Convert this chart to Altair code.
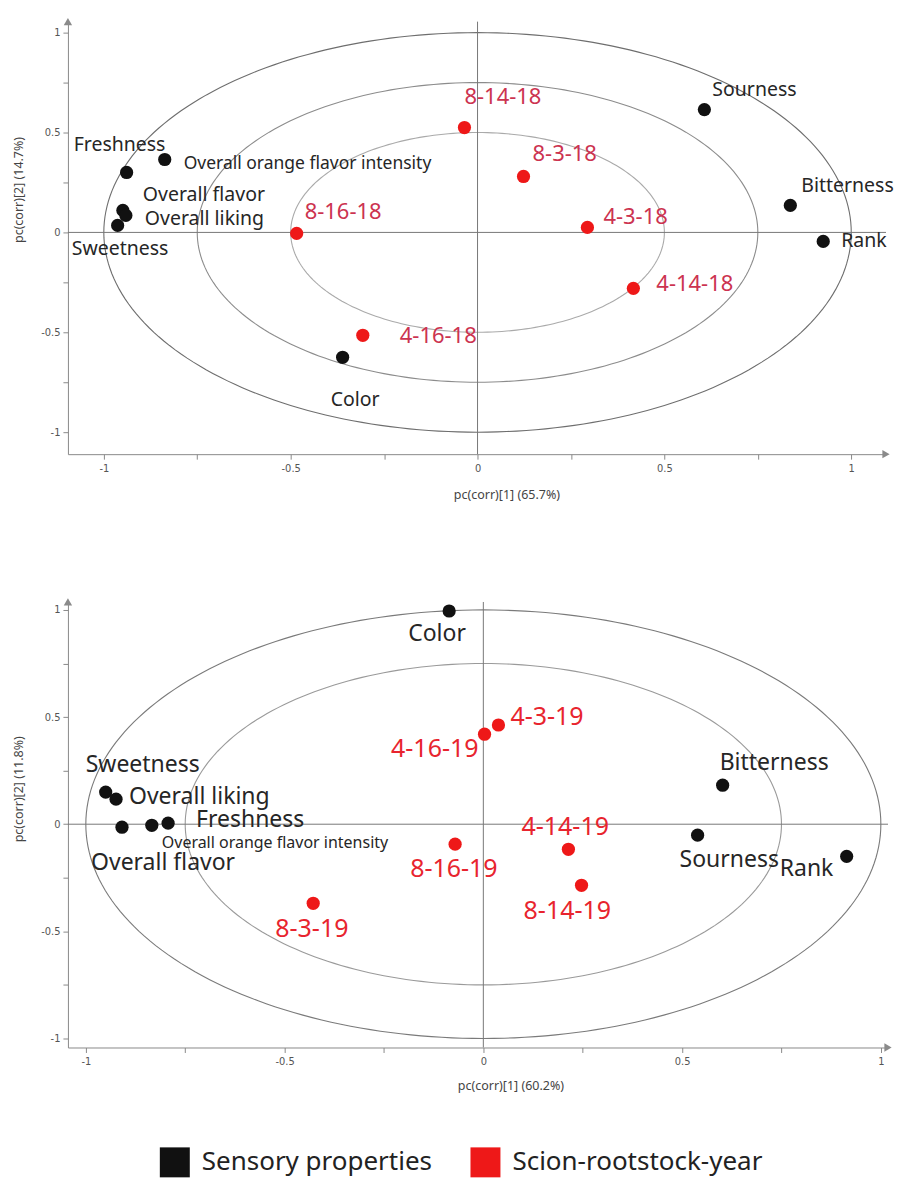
import altair as alt
import numpy as np
import pandas as pd

# ---------------- data: panel 1 (2018) ----------------
sens_names_18 = ["Sourness", "Bitterness", "Rank", "Freshness",
                 "Overall orange flavor intensity", "Overall flavor",
                 "Overall liking", "Sweetness", "Color"]
sens_pc1_18 = [0.607, 0.837, 0.925, -0.939, -0.837, -0.949, -0.941, -0.963, -0.361]
sens_pc2_18 = [0.615, 0.135, -0.045, 0.300, 0.365, 0.110, 0.085, 0.035, -0.625]

samp_names_18 = ["8-14-18", "8-3-18", "4-3-18", "4-14-18", "8-16-18", "4-16-18"]
samp_pc1_18 = [-0.035, 0.123, 0.294, 0.417, -0.484, -0.307]
samp_pc2_18 = [0.525, 0.280, 0.025, -0.280, -0.005, -0.515]

# ---------------- data: panel 2 (2019) ----------------
sens_names_19 = ["Color", "Bitterness", "Sourness", "Rank", "Sweetness",
                 "Overall liking", "Overall flavor",
                 "Overall orange flavor intensity", "Freshness"]
sens_pc1_19 = [-0.086, 0.602, 0.539, 0.914, -0.950, -0.924, -0.909, -0.834, -0.793]
sens_pc2_19 = [0.995, 0.182, -0.051, -0.150, 0.150, 0.117, -0.014, -0.005, 0.005]

samp_names_19 = ["4-3-19", "4-16-19", "4-14-19", "8-14-19", "8-16-19", "8-3-19"]
samp_pc1_19 = [0.038, 0.003, 0.214, 0.247, -0.071, -0.428]
samp_pc2_19 = [0.463, 0.420, -0.117, -0.285, -0.093, -0.369]

groups = ["Sensory properties", "Scion-rootstock-year"]
tick_values = [-1, -0.75, -0.5, -0.25, 0, 0.25, 0.5, 0.75, 1]

# ---------------- label placement (pixel offsets, alignment) ----------------
offsets_18 = {
    "Sourness": (8, -20, "left"), "Bitterness": (11, -19, "left"), "Rank": (18, 0, "left"),
    "Freshness": (-53, -28, "left"), "Overall orange flavor intensity": (19, 5, "left"),
    "Overall flavor": (20, -15, "left"), "Overall liking": (19, 4, "left"),
    "Sweetness": (-46, 24, "left"), "Color": (-12, 43, "left"),
    "8-14-18": (0, -31, "left"), "8-3-18": (9, -22, "left"), "4-3-18": (16, -10, "left"),
    "4-14-18": (23, -4, "left"), "8-16-18": (8, -21, "left"), "4-16-18": (37, 1, "left"),
}
offsets_19 = {
    "Color": (-41, 23, "left"), "Bitterness": (-3, -22, "left"), "Sourness": (-18, 25, "left"),
    "Rank": (-67, 13, "left"), "Sweetness": (-20, -27, "left"), "Overall liking": (13, -2, "left"),
    "Overall flavor": (-31, 36, "left"), "Overall orange flavor intensity": (10, 18, "left"),
    "Freshness": (28, -3, "left"),
    "4-3-19": (12, -8, "left"), "4-16-19": (-6, 15, "right"), "4-14-19": (-47, -22, "left"),
    "8-14-19": (-58, 26, "left"), "8-16-19": (-45, 25, "left"), "8-3-19": (-38, 26, "left"),
}

FONT = "Noto Sans"
TICK_FONT = "Liberation Sans Narrow, DejaVu Sans Condensed, Liberation Sans, sans-serif"


def build_frame(sn, sx, sy, pn, px, py):
    rows = []
    for n, x, y in zip(sn, sx, sy):
        rows.append(dict(name=n, pc1=x, pc2=y, group=groups[0]))
    for n, x, y in zip(pn, px, py):
        rows.append(dict(name=n, pc1=x, pc2=y, group=groups[1]))
    return pd.DataFrame(rows)


def panel(df, offsets, sens_fs, samp_fs, small_fs, xdom, ydom, width, height, radii,
          ring_colors, xtitle, ytitle, xt_pos, yt_pos, red_text, legend):
    xs = alt.Scale(domain=xdom, nice=False, zero=False)
    ys = alt.Scale(domain=ydom, nice=False, zero=False)
    label_expr = "abs(datum.value*2 - round(datum.value*2)) < 1e-6 ? '' + datum.value : ''"
    common = dict(values=tick_values, labelExpr=label_expr, tickSize=5,
                  domainColor="#8a8a8a", tickColor="#8a8a8a", labelColor="#555",
                  labelFont=TICK_FONT, labelFontSize=11, grid=False,
                  titleFont=FONT, titleFontSize=12.5, titleColor="#444",
                  titleFontWeight="normal", titleAlign="center",
                  titleBaseline="middle", labelPadding=3)
    xaxis = alt.Axis(title=xtitle, titleX=xt_pos[0], titleY=xt_pos[1], **common)
    yaxis = alt.Axis(title=ytitle, titleX=yt_pos[0], titleY=yt_pos[1],
                     titleAngle=270, **common)

    # reference correlation circles
    theta = np.linspace(0, 2 * np.pi, 241)
    layers = []
    for r, c in zip(radii, ring_colors):
        ring = pd.DataFrame({"pc1": r * np.cos(theta), "pc2": r * np.sin(theta),
                             "k": np.arange(len(theta))})
        layers.append(alt.Chart(ring).mark_line(color=c, strokeWidth=1.1).encode(
            x=alt.X("pc1:Q", scale=xs, axis=xaxis),
            y=alt.Y("pc2:Q", scale=ys, axis=yaxis),
            order="k:Q"))

    zero = pd.DataFrame({"v": [0]})
    layers.append(alt.Chart(zero).mark_rule(color="#777", strokeWidth=1).encode(
        x=alt.X("v:Q", scale=xs)))
    layers.append(alt.Chart(zero).mark_rule(color="#777", strokeWidth=1).encode(
        y=alt.Y("v:Q", scale=ys)))

    # axis arrow heads
    ax_end = pd.DataFrame({"x": [xdom[1]], "y": [ydom[0]]})
    layers.append(alt.Chart(ax_end).mark_point(shape="triangle-right", filled=True,
                                               size=70, color="#8a8a8a", opacity=1).encode(
        x=alt.X("x:Q", scale=xs), y=alt.Y("y:Q", scale=ys)))
    ay_end = pd.DataFrame({"x": [xdom[0]], "y": [ydom[1]]})
    layers.append(alt.Chart(ay_end).mark_point(shape="triangle-up", filled=True,
                                               size=70, color="#8a8a8a", opacity=1).encode(
        x=alt.X("x:Q", scale=xs), y=alt.Y("y:Q", scale=ys)))

    color_scale = alt.Scale(domain=groups, range=["#111111", "#ee1818"])
    leg = alt.Legend(title=None) if legend else None
    layers.append(alt.Chart(df).mark_circle(size=175, opacity=1).encode(
        x=alt.X("pc1:Q", scale=xs),
        y=alt.Y("pc2:Q", scale=ys),
        color=alt.Color("group:N", scale=color_scale, legend=leg)))

    # one text layer per label (each label has its own placement)
    for n, g in zip(df["name"], df["group"]):
        dx, dy, al = offsets[n]
        if n.startswith("Overall orange"):
            fs = small_fs
        elif g == groups[0]:
            fs = sens_fs
        else:
            fs = samp_fs
        layers.append(alt.Chart(df).transform_filter(alt.datum.name == n).mark_text(
            align=al, baseline="middle", font=FONT, fontSize=fs, dx=dx, dy=dy
        ).encode(
            x=alt.X("pc1:Q", scale=xs),
            y=alt.Y("pc2:Q", scale=ys),
            text="name:N",
            color=alt.condition(alt.datum.group == groups[0], alt.value("#262626"),
                                alt.value(red_text))))

    return alt.layer(*layers).properties(width=width, height=height)


df18 = build_frame(sens_names_18, sens_pc1_18, sens_pc2_18,
                   samp_names_18, samp_pc1_18, samp_pc2_18)
df19 = build_frame(sens_names_19, sens_pc1_19, sens_pc2_19,
                   samp_names_19, samp_pc1_19, samp_pc2_19)

top = panel(df18, offsets_18, 19.5, 22, 17.5, [-1.096, 1.093], [-1.11, 1.055], 819, 433,
            [1.0, 0.75, 0.5], ["#6e6e6e", "#8c8c8c", "#aaaaaa"],
            "pc(corr)[1] (65.7%)", "pc(corr)[2] (14.7%)",
            (439, 40), (-49, 168), "#cc3350", True)
bottom = panel(df19, offsets_19, 23, 25, 16, [-1.045, 1.018], [-1.042, 1.037], 821, 446,
               [1.0, 0.75], ["#7a7a7a", "#9a9a9a"],
               "pc(corr)[1] (60.2%)", "pc(corr)[2] (11.8%)",
               (443, 38), (-49, 187), "#e8242e", False)

chart = alt.vconcat(top, bottom, spacing=97).resolve_scale(
    x="independent", y="independent", color="shared"
).properties(
    padding={"left": 5, "top": 9, "right": 0, "bottom": 5}
).configure_view(stroke=None).configure_legend(
    orient="none", legendX=92, legendY=1127, direction="horizontal",
    symbolType="square", symbolSize=900, symbolStrokeWidth=0,
    labelFont=FONT, labelFontSize=26, labelColor="#222", labelLimit=400,
    labelOffset=12, columnPadding=38
)

chart.save("out.html", embed_options={"renderer": "svg", "actions": False})
